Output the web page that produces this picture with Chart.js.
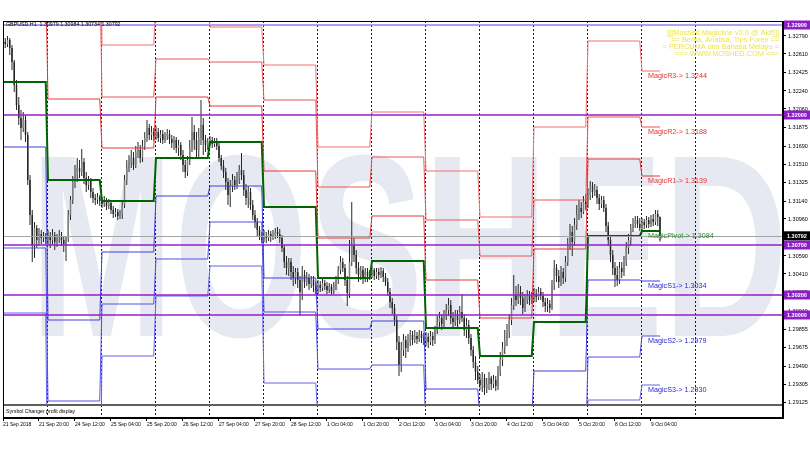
<!DOCTYPE html>
<html>
<head>
<meta charset="utf-8">
<title>GBPUSD,H1</title>
<script src="https://cdn.jsdelivr.net/npm/chart.js@4.4.1/dist/chart.umd.min.js"></script>
<style>
  html, body { margin: 0; padding: 0; background: #fff; }
  #caixa { width: 810px; height: 450px; }
</style>
</head>
<body>
<div id="caixa"><canvas id="grafico" width="810" height="450"></canvas></div>
<script>
// horas de pregão contadas a partir de 21 Sep 00:00 (fim de semana não conta)
const primeiraHora = 4;
const ultimaHora = 296;
const inicioDias = [0, 24, 48, 72, 96, 120, 144, 168, 192, 216, 240, 264, 288, 312];

const rotulosX = ['21 Sep 2018', '21 Sep 20:00', '24 Sep 12:00', '25 Sep 04:00', '25 Sep 20:00', '26 Sep 12:00',
  '27 Sep 04:00', '27 Sep 20:00', '28 Sep 12:00', '1 Oct 04:00', '1 Oct 20:00', '2 Oct 12:00', '3 Oct 04:00',
  '3 Oct 20:00', '4 Oct 12:00', '5 Oct 04:00', '5 Oct 20:00', '8 Oct 12:00', '9 Oct 04:00'];
const horasRotulosX = [4, 20, 36, 52, 68, 84, 100, 116, 132, 148, 164, 180, 196, 212, 228, 244, 260, 276, 292];

const ticksPreco = [1.32790, 1.32610, 1.32425, 1.32240, 1.32060, 1.31875, 1.31690, 1.31510, 1.31325, 1.31140,
  1.30960, 1.30775, 1.30590, 1.30410, 1.30225, 1.30040, 1.29855, 1.29675, 1.29490, 1.29305, 1.29125];

// velas H1 (um valor por hora, dia a dia)
const opens = [
  1.3270,1.3273,1.3271,1.3275,1.3267,1.3253,1.3230,1.3210,1.3197,1.3187,1.3195,1.3180,1.3135,1.3100,1.3070,1.3087,1.3075,1.3081,1.3077,1.3079,
  1.3076,1.3079,1.3075,1.3080,1.3073,1.3077,1.3079,1.3075,1.3071,1.3077,1.3100,1.3115,1.3133,1.3140,1.3147,1.3143,1.3153,1.3137,1.3130,1.3135,1.3123,1.3117,1.3115,1.3118,
  1.3114,1.3111,1.3115,1.3109,1.3112,1.3105,1.3101,1.3103,1.3099,1.3101,1.3110,1.3135,1.3147,1.3153,1.3157,1.3150,1.3163,1.3165,1.3157,1.3169,1.3177,1.3187,1.3180,1.3183,
  1.3179,1.3183,1.3177,1.3181,1.3175,1.3179,1.3181,1.3176,1.3172,1.3175,1.3167,1.3170,1.3160,1.3150,1.3143,1.3155,1.3167,1.3183,1.3175,1.3165,1.3177,1.3190,1.3175,1.3170,
  1.3173,1.3175,1.3171,1.3174,1.3169,1.3157,1.3149,1.3143,1.3133,1.3120,1.3129,1.3135,1.3130,1.3137,1.3145,1.3140,1.3125,1.3117,1.3123,1.3110,1.3100,1.3093,1.3085,1.3079,
  1.3075,1.3079,1.3077,1.3081,1.3078,1.3080,1.3083,1.3081,1.3077,1.3067,1.3053,1.3047,1.3053,1.3043,1.3037,1.3043,1.3035,1.3023,1.3040,1.3033,1.3037,1.3031,1.3035,1.3029,
  1.3025,1.3030,1.3027,1.3032,1.3029,1.3025,1.3028,1.3024,1.3029,1.3035,1.3045,1.3053,1.3047,1.3035,1.3022,1.3053,1.3070,1.3060,1.3047,1.3040,1.3045,1.3037,1.3043,1.3039,
  1.3041,1.3045,1.3039,1.3043,1.3040,1.3044,1.3038,1.3033,1.3023,1.3013,1.3007,1.2995,1.2973,1.2950,1.2965,1.2975,1.2967,1.2973,1.2980,1.2975,1.2979,1.2976,1.2981,1.2977,
  1.2975,1.2978,1.2973,1.2979,1.2975,1.2985,1.2993,1.2997,1.2991,1.2999,1.3005,1.3010,1.2997,1.2993,1.3000,1.2995,1.3003,1.2997,1.2985,1.2990,1.2977,1.2965,1.2953,1.2943,
  1.2935,1.2930,1.2937,1.2927,1.2931,1.2937,1.2931,1.2935,1.2929,1.2943,1.2955,1.2967,1.2975,1.2983,1.2995,1.3010,1.3020,1.3015,1.3023,1.3017,1.3007,1.3015,1.3019,1.3015,
  1.3017,1.3021,1.3018,1.3023,1.3019,1.3013,1.3009,1.3011,1.3007,1.3030,1.3047,1.3039,1.3033,1.3043,1.3037,1.3053,1.3070,1.3083,1.3073,1.3090,1.3100,1.3107,1.3103,1.3113,
  1.3111,1.3120,1.3129,1.3123,1.3125,1.3117,1.3111,1.3115,1.3107,1.3089,1.3075,1.3060,1.3047,1.3040,1.3035,1.3047,1.3043,1.3053,1.3067,1.3075,1.3087,1.3091,1.3095,1.3091,
  1.3087,1.3093,1.3090,1.3095,1.3091,1.3096,1.3093,1.3101,1.30979
];
const highs = [
  1.3277,1.3277,1.3279,1.3277,1.3270,1.3255,1.3235,1.3218,1.3205,1.3203,1.3200,1.3183,1.3140,1.3105,1.3093,1.3090,1.3087,1.3085,1.3083,1.3082,
  1.3085,1.3083,1.3086,1.3083,1.3081,1.3085,1.3083,1.3078,1.3079,1.3105,1.3119,1.3139,1.3150,1.3157,1.3155,1.3166,1.3157,1.3143,1.3139,1.3137,1.3127,1.3121,1.3122,1.3120,
  1.3118,1.3119,1.3117,1.3116,1.3115,1.3109,1.3107,1.3106,1.3105,1.3115,1.3140,1.3155,1.3160,1.3165,1.3163,1.3169,1.3173,1.3170,1.3175,1.3183,1.3195,1.3191,1.3189,1.3187,
  1.3189,1.3187,1.3185,1.3185,1.3183,1.3186,1.3185,1.3180,1.3179,1.3178,1.3175,1.3173,1.3165,1.3155,1.3159,1.3175,1.3198,1.3190,1.3183,1.3187,1.3215,1.3197,1.3180,1.3177,
  1.3179,1.3178,1.3177,1.3177,1.3172,1.3160,1.3155,1.3147,1.3137,1.3135,1.3141,1.3139,1.3143,1.3150,1.3162,1.3145,1.3131,1.3129,1.3127,1.3115,1.3105,1.3097,1.3089,1.3083,
  1.3085,1.3083,1.3085,1.3084,1.3085,1.3087,1.3088,1.3086,1.3080,1.3070,1.3059,1.3057,1.3057,1.3049,1.3047,1.3047,1.3039,1.3049,1.3045,1.3043,1.3041,1.3039,1.3039,1.3033,
  1.3035,1.3034,1.3036,1.3035,1.3033,1.3032,1.3031,1.3033,1.3039,1.3049,1.3059,1.3057,1.3051,1.3039,1.3075,1.3113,1.3077,1.3065,1.3053,1.3049,1.3049,1.3047,1.3047,1.3045,
  1.3049,1.3047,1.3047,1.3047,1.3048,1.3047,1.3042,1.3037,1.3027,1.3017,1.3011,1.2999,1.2979,1.2973,1.2981,1.2979,1.2981,1.2985,1.2984,1.2985,1.2983,1.2985,1.2984,1.2982,
  1.2983,1.2982,1.2984,1.2983,1.2989,1.2999,1.3003,1.3001,1.3005,1.3011,1.3017,1.3015,1.3003,1.3005,1.3005,1.3009,1.3021,1.3001,1.2997,1.2995,1.2981,1.2969,1.2959,1.2949,
  1.2941,1.2943,1.2941,1.2937,1.2943,1.2939,1.2940,1.2939,1.2949,1.2963,1.2973,1.2985,1.2991,1.3001,1.3017,1.3040,1.3029,1.3031,1.3029,1.3023,1.3021,1.3025,1.3024,1.3023,
  1.3027,1.3026,1.3028,1.3027,1.3023,1.3017,1.3017,1.3015,1.3035,1.3055,1.3051,1.3045,1.3049,1.3047,1.3059,1.3077,1.3091,1.3089,1.3097,1.3110,1.3115,1.3113,1.3119,1.3121,
  1.3127,1.3134,1.3133,1.3131,1.3129,1.3121,1.3119,1.3119,1.3111,1.3093,1.3079,1.3065,1.3053,1.3049,1.3053,1.3053,1.3059,1.3073,1.3081,1.3091,1.3097,1.3099,1.3099,1.3097,
  1.3097,1.3096,1.3099,1.3098,1.3100,1.3101,1.3105,1.3105,1.30984
];
const lows = [
  1.3265,1.3267,1.3268,1.3260,1.3245,1.3223,1.3205,1.3190,1.3175,1.3183,1.3173,1.3130,1.3090,1.3053,1.3057,1.3067,1.3069,1.3071,1.3073,1.3071,
  1.3070,1.3067,1.3071,1.3065,1.3068,1.3072,1.3069,1.3063,1.3054,1.3073,1.3095,1.3111,1.3127,1.3133,1.3137,1.3139,1.3131,1.3123,1.3125,1.3117,1.3112,1.3110,1.3111,1.3109,
  1.3107,1.3108,1.3105,1.3106,1.3101,1.3097,1.3098,1.3095,1.3096,1.3096,1.3107,1.3130,1.3143,1.3147,1.3145,1.3147,1.3157,1.3152,1.3153,1.3165,1.3173,1.3175,1.3175,1.3174,
  1.3175,1.3173,1.3172,1.3171,1.3172,1.3175,1.3171,1.3167,1.3165,1.3162,1.3159,1.3155,1.3143,1.3137,1.3139,1.3150,1.3163,1.3165,1.3158,1.3157,1.3170,1.3160,1.3163,1.3165,
  1.3169,1.3167,1.3168,1.3165,1.3153,1.3145,1.3137,1.3125,1.3110,1.3108,1.3123,1.3125,1.3126,1.3131,1.3135,1.3119,1.3110,1.3107,1.3105,1.3095,1.3087,1.3079,1.3075,1.3072,
  1.3073,1.3072,1.3074,1.3073,1.3075,1.3076,1.3077,1.3072,1.3063,1.3047,1.3040,1.3039,1.3035,1.3029,1.3031,1.3027,1.2999,1.3015,1.3027,1.3029,1.3025,1.3027,1.3023,1.3021,
  1.3021,1.3023,1.3024,1.3025,1.3021,1.3022,1.3020,1.3021,1.3025,1.3031,1.3041,1.3043,1.3029,1.3009,1.3017,1.3049,1.3053,1.3041,1.3033,1.3035,1.3031,1.3033,1.3033,1.3035,
  1.3037,1.3035,1.3036,1.3035,1.3037,1.3033,1.3029,1.3019,1.3007,1.3001,1.2989,1.2965,1.2939,1.2943,1.2959,1.2957,1.2963,1.2969,1.2970,1.2972,1.2971,1.2973,1.2972,1.2970,
  1.2969,1.2967,1.2970,1.2969,1.2971,1.2981,1.2987,1.2985,1.2987,1.2995,1.2999,1.2991,1.2987,1.2989,1.2987,1.2991,1.2993,1.2979,1.2977,1.2971,1.2959,1.2947,1.2935,1.2931,
  1.2925,1.2923,1.2920,1.2922,1.2925,1.2925,1.2927,1.2924,1.2925,1.2939,1.2949,1.2961,1.2969,1.2977,1.2990,1.3005,1.3009,1.3011,1.3010,1.3001,1.3003,1.3011,1.3010,1.3011,
  1.3013,1.3013,1.3015,1.3015,1.3008,1.3003,1.3003,1.3002,1.3005,1.3025,1.3033,1.3027,1.3029,1.3031,1.3033,1.3049,1.3065,1.3059,1.3069,1.3085,1.3095,1.3097,1.3101,1.3105,
  1.3107,1.3115,1.3117,1.3119,1.3111,1.3105,1.3107,1.3103,1.3083,1.3069,1.3053,1.3040,1.3028,1.3029,1.3031,1.3037,1.3039,1.3049,1.3061,1.3069,1.3083,1.3087,1.3087,1.3084,
  1.3085,1.3086,1.3087,1.3087,1.3088,1.3089,1.3090,1.3089,1.30734
];
const closes = [
  1.3273,1.3271,1.3275,1.3267,1.3253,1.3230,1.3210,1.3197,1.3187,1.3195,1.3180,1.3135,1.3100,1.3070,1.3087,1.3075,1.3081,1.3077,1.3079,1.3076,
  1.3079,1.3075,1.3080,1.3073,1.3077,1.3079,1.3075,1.3071,1.3077,1.3100,1.3115,1.3133,1.3140,1.3147,1.3143,1.3153,1.3137,1.3130,1.3135,1.3123,1.3117,1.3115,1.3118,1.3114,
  1.3111,1.3115,1.3109,1.3112,1.3105,1.3101,1.3103,1.3099,1.3101,1.3110,1.3135,1.3147,1.3153,1.3157,1.3150,1.3163,1.3165,1.3157,1.3169,1.3177,1.3187,1.3180,1.3183,1.3179,
  1.3183,1.3177,1.3181,1.3175,1.3179,1.3181,1.3176,1.3172,1.3175,1.3167,1.3170,1.3160,1.3150,1.3143,1.3155,1.3167,1.3183,1.3175,1.3165,1.3177,1.3190,1.3175,1.3170,1.3173,
  1.3175,1.3171,1.3174,1.3169,1.3157,1.3149,1.3143,1.3133,1.3120,1.3129,1.3135,1.3130,1.3137,1.3145,1.3140,1.3125,1.3117,1.3123,1.3110,1.3100,1.3093,1.3085,1.3079,1.3075,
  1.3079,1.3077,1.3081,1.3078,1.3080,1.3083,1.3081,1.3077,1.3067,1.3053,1.3047,1.3053,1.3043,1.3037,1.3043,1.3035,1.3023,1.3040,1.3033,1.3037,1.3031,1.3035,1.3029,1.3025,
  1.3030,1.3027,1.3032,1.3029,1.3025,1.3028,1.3024,1.3029,1.3035,1.3045,1.3053,1.3047,1.3035,1.3022,1.3053,1.3070,1.3060,1.3047,1.3040,1.3045,1.3037,1.3043,1.3039,1.3041,
  1.3045,1.3039,1.3043,1.3040,1.3044,1.3038,1.3033,1.3023,1.3013,1.3007,1.2995,1.2973,1.2950,1.2965,1.2975,1.2967,1.2973,1.2980,1.2975,1.2979,1.2976,1.2981,1.2977,1.2975,
  1.2978,1.2973,1.2979,1.2975,1.2985,1.2993,1.2997,1.2991,1.2999,1.3005,1.3010,1.2997,1.2993,1.3000,1.2995,1.3003,1.2997,1.2985,1.2990,1.2977,1.2965,1.2953,1.2943,1.2935,
  1.2930,1.2937,1.2927,1.2931,1.2937,1.2931,1.2935,1.2929,1.2943,1.2955,1.2967,1.2975,1.2983,1.2995,1.3010,1.3020,1.3015,1.3023,1.3017,1.3007,1.3015,1.3019,1.3015,1.3017,
  1.3021,1.3018,1.3023,1.3019,1.3013,1.3009,1.3011,1.3007,1.3030,1.3047,1.3039,1.3033,1.3043,1.3037,1.3053,1.3070,1.3083,1.3073,1.3090,1.3100,1.3107,1.3103,1.3113,1.3111,
  1.3120,1.3129,1.3123,1.3125,1.3117,1.3111,1.3115,1.3107,1.3089,1.3075,1.3060,1.3047,1.3040,1.3035,1.3047,1.3043,1.3053,1.3067,1.3075,1.3087,1.3091,1.3095,1.3091,1.3087,
  1.3093,1.3090,1.3095,1.3091,1.3096,1.3093,1.3101,1.30979,1.30792
];

// níveis diários do MagicLine (um valor por dia, 21 Sep .. 9 Oct)
const r3 = [1.3500, 1.3437, 1.3270, 1.3317, 1.3288, 1.3250, 1.3168, 1.3203, 1.3144, 1.3098, 1.3188, 1.3274, 1.3244];
const r2 = [1.3399, 1.3356, 1.3218, 1.3256, 1.3253, 1.3215, 1.3128, 1.3158, 1.3095, 1.3059, 1.3115, 1.3198, 1.3188];
const r1 = [1.3334, 1.3216, 1.3167, 1.3218, 1.3209, 1.3144, 1.3077, 1.3099, 1.3035, 1.2997, 1.3066, 1.3156, 1.3139];
const pivot = [1.3233, 1.3135, 1.3114, 1.3157, 1.3173, 1.3108, 1.3037, 1.3054, 1.2987, 1.2959, 1.2993, 1.3079, 1.3084];
const s1 = [1.3168, 1.2995, 1.3063, 1.3119, 1.3129, 1.3037, 1.2986, 1.2994, 1.2926, 1.2897, 1.2944, 1.3035, 1.3034];
const s2 = [1.3067, 1.2914, 1.3011, 1.3056, 1.3093, 1.3003, 1.2946, 1.2950, 1.2878, 1.2859, 1.2871, 1.2958, 1.2979];
const s3 = [1.3002, 1.2774, 1.2959, 1.3019, 1.3049, 1.2932, 1.2895, 1.2891, 1.2818, 1.2797, 1.2822, 1.2915, 1.2930];

const niveisFixos = [1.32900, 1.32000, 1.30700, 1.30200, 1.30000];
const precoAtual = closes[closes.length - 1];

const textoTopo = 'GBPUSD,H1  1.30979 1.30984 1.30734 1.30792';
const textoMoshed = ['[[[Moshed Magicline v2.0 @ Akif]]]', '== Berita, Analisa, Tips Forex ==',
  '= PERCUMA dlm Bahasa Melayu =', '==> WWW.MOSHED.COM <=='];

// ---------------------------------------------------------------
const FONTE = '"Liberation Sans", Arial, sans-serif';
const corR = ['rgb(240,112,112)', 'rgb(236,84,84)', 'rgb(228,56,56)'];
const corS = ['rgb(64,64,222)', 'rgb(80,80,230)', 'rgb(100,100,238)'];
const recorte = {left: 0, top: 0, right: 0, bottom: -14};

function degraus(niveis) {
  const pts = [];
  niveis.forEach((v, d) => {
    const fim = Math.min(inicioDias[d + 1] - 1, ultimaHora);
    pts.push({x: inicioDias[d], y: v}, {x: fim, y: v});
  });
  return pts;
}

const pavios = highs.map((h, i) => ({x: primeiraHora + i, y: [lows[i], h]}));
const corpos = opens.map((o, i) => ({x: primeiraHora + i, y: [o, closes[i]]}));
const corCorpo = c => closes[c.dataIndex] >= opens[c.dataIndex] ? 'rgb(128,128,128)' : 'rgb(38,38,38)';

function linha(nome, niveis, cor, larg) {
  return {type: 'line', label: nome, data: degraus(niveis), borderColor: cor, borderWidth: larg,
    pointRadius: 0, fill: false, tension: 0, order: 1, clip: recorte};
}

function texto(ctx, s, x, y, fonte, cor, alinh) {
  ctx.font = fonte;
  ctx.fillStyle = cor;
  ctx.textAlign = alinh || 'left';
  ctx.textBaseline = 'middle';
  ctx.fillText(s, x, y);
}

const extras = {
  id: 'extras',
  beforeDraw(chart) {
    const ctx = chart.ctx;
    ctx.save();
    ctx.fillStyle = '#fff';
    ctx.fillRect(0, 0, chart.width, chart.height);
    // marca d'água
    ctx.font = 'bold 100px ' + FONTE;
    const w = ctx.measureText('MOSHED').width;
    ctx.translate(30, 336);
    ctx.scale(758 / w, 2.6);
    ctx.fillStyle = 'rgb(230,233,241)';
    ctx.textAlign = 'left';
    ctx.textBaseline = 'alphabetic';
    ctx.fillText('MOSHED', 0, 0);
    ctx.restore();
  },
  afterDatasetsDraw(chart) {
    const {ctx, chartArea: a, scales: {x, y}} = chart;
    ctx.save();
    // linha do preço atual
    const yp = Math.round(y.getPixelForValue(precoAtual)) + 0.5;
    ctx.strokeStyle = 'rgb(165,165,165)';
    ctx.lineWidth = 1;
    ctx.beginPath(); ctx.moveTo(a.left, yp); ctx.lineTo(a.right, yp); ctx.stroke();
    // linhas horizontais fixas
    niveisFixos.forEach((v, i) => {
      const yy = y.getPixelForValue(v);
      ctx.strokeStyle = i === 0 ? 'rgb(150,128,236)' : 'rgb(150,30,200)';
      ctx.lineWidth = 1.6;
      ctx.beginPath(); ctx.moveTo(a.left, yy); ctx.lineTo(a.right, yy); ctx.stroke();
    });
    // rótulos dos níveis do dia atual
    const xt = x.getPixelForValue(inicioDias[12]) + 6;
    const f = '7.2px ' + FONTE;
    const d = 12;
    [['MagicR3-> ', r3, 'rgb(228,50,50)'], ['MagicR2-> ', r2, 'rgb(228,50,50)'], ['MagicR1-> ', r1, 'rgb(228,50,50)'],
     ['MagicPivot-> ', pivot, 'rgb(40,140,40)'], ['MagicS1-> ', s1, 'rgb(40,40,205)'],
     ['MagicS2-> ', s2, 'rgb(40,40,205)'], ['MagicS3-> ', s3, 'rgb(40,40,205)']].forEach(([nome, arr, cor]) => {
      texto(ctx, nome + arr[d].toFixed(4), xt, y.getPixelForValue(arr[d]) + 5, f, cor);
    });
    // texto amarelo
    textoMoshed.forEach((s, i) => texto(ctx, s, a.right - 4, 33 + i * 7, '7.4px ' + FONTE, 'rgb(238,226,80)', 'right'));
    // cabeçalho
    texto(ctx, textoTopo, a.left + 3, 25, '5.3px ' + FONTE, '#000');
    // subjanela
    ctx.fillStyle = 'rgb(95,95,95)';
    ctx.fillRect(a.left, 404, a.right - a.left, 2);
    texto(ctx, 'Symbol Changer profit display', a.left + 3, 412, '5.2px ' + FONTE, '#000');
    // moldura
    ctx.strokeStyle = '#000';
    ctx.lineWidth = 1;
    ctx.strokeRect(Math.round(a.left) + 0.5, Math.round(a.top) + 0.5, Math.round(a.right - a.left) - 1, Math.round(a.bottom - a.top) - 1);
    ctx.restore();
  },
  afterDraw(chart) {
    const {ctx, chartArea: a, scales: {y}} = chart;
    ctx.save();
    const caixa = (v, fundo) => {
      const yy = y.getPixelForValue(v);
      ctx.fillStyle = fundo;
      ctx.fillRect(a.right + 1, yy - 4.5, 27, 9);
      texto(ctx, v.toFixed(5), a.right + 4, yy + 0.5, 'bold 5.5px ' + FONTE, '#fff');
    };
    niveisFixos.forEach(v => caixa(v, 'rgb(140,30,200)'));
    caixa(precoAtual, '#000');
    ctx.restore();
  }
};

new Chart(document.getElementById('grafico'), {
  type: 'bar',
  data: {
    datasets: [
      linha('R3', r3, corR[0], 1),
      linha('R2', r2, corR[1], 1),
      linha('R1', r1, corR[2], 1),
      linha('Pivot', pivot, 'rgb(0,100,0)', 2),
      linha('S1', s1, corS[0], 1),
      linha('S2', s2, corS[1], 1),
      linha('S3', s3, corS[2], 1),
      {type: 'bar', label: 'corpo', data: corpos, backgroundColor: corCorpo, barThickness: 1.5,
        minBarLength: 1, grouped: false, borderWidth: 0, inflateAmount: 0, order: 5},
      {type: 'bar', label: 'pavio', data: pavios, backgroundColor: 'rgb(40,40,40)', barThickness: 1,
        grouped: false, borderWidth: 0, inflateAmount: 0, order: 6}
    ]
  },
  options: {
    responsive: false,
    animation: false,
    devicePixelRatio: 1,
    layout: {padding: {left: 3, top: 21, right: 0, bottom: 0}},
    plugins: {legend: {display: false}, tooltip: {enabled: false}},
    scales: {
      x: {
        type: 'linear', position: 'bottom', min: primeiraHora, max: 350.67, offset: false,
        afterBuildTicks: s => { s.ticks = horasRotulosX.map(v => ({value: v})); },
        afterFit: s => { s.height = 32; s.paddingLeft = 0; s.paddingRight = 0; },
        grid: {drawOnChartArea: false, offset: false, tickLength: 3, color: '#000'},
        border: {display: true, color: '#000'},
        ticks: {autoSkip: false, maxRotation: 0, align: 'start', padding: 1, color: '#000',
          font: {family: FONTE, size: 5}, callback: (v, i) => rotulosX[i]}
      },
      x2: {
        type: 'linear', position: 'top', min: primeiraHora, max: 350.67, offset: false,
        afterBuildTicks: s => { s.ticks = inicioDias.slice(1).map(v => ({value: v})); },
        afterFit: s => { s.height = 0; },
        grid: {drawOnChartArea: true, drawTicks: false, offset: false, color: 'rgb(30,30,30)', lineWidth: 1},
        border: {display: false, dash: [2, 2]},
        ticks: {display: false}
      },
      y: {
        type: 'linear', position: 'right', min: 1.2897, max: 1.3294,
        afterBuildTicks: s => { s.ticks = ticksPreco.map(v => ({value: v})); },
        afterFit: s => { s.width = 27; s.paddingTop = 0; s.paddingBottom = 0; },
        grid: {drawOnChartArea: false, tickLength: 3, color: '#000'},
        border: {display: true, color: '#000'},
        ticks: {autoSkip: false, padding: 2, color: '#000', font: {family: FONTE, size: 5.5},
          callback: v => v.toFixed(5)}
      }
    }
  },
  plugins: [extras]
});
</script>
</body>
</html>
